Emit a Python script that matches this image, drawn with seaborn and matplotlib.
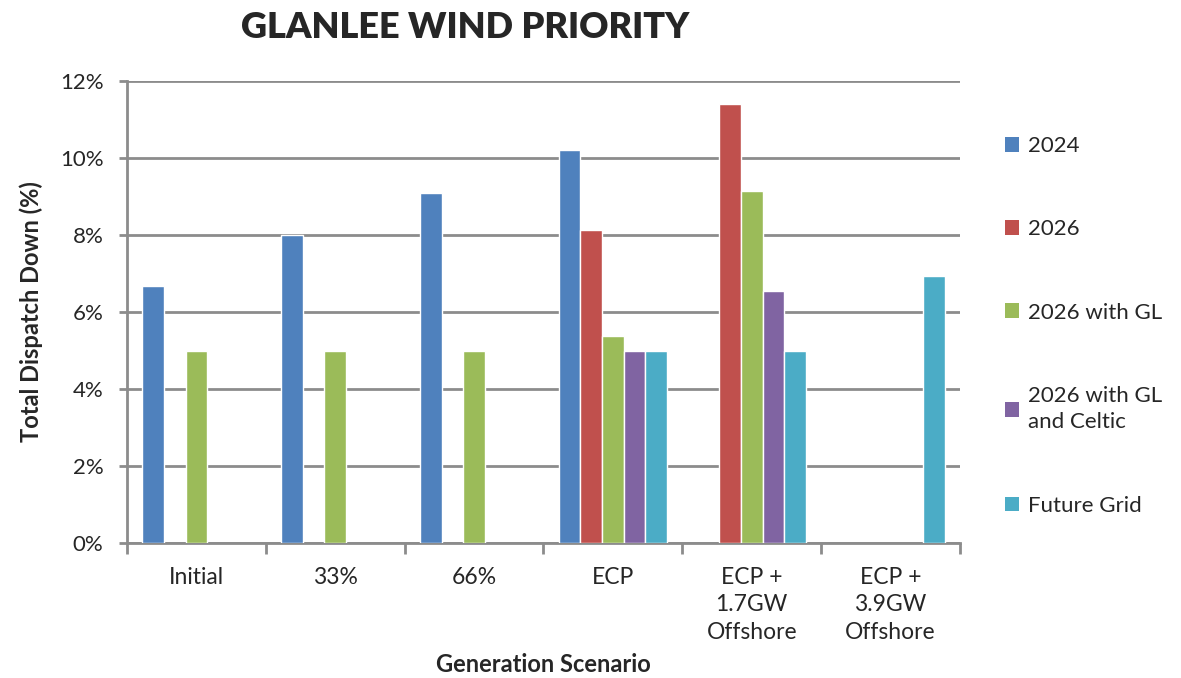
import numpy as np
import pandas as pd
import matplotlib
matplotlib.use("Agg")
import matplotlib.pyplot as plt
import seaborn as sns
from matplotlib.ticker import PercentFormatter, FixedLocator
from matplotlib.patches import Patch

# values (percent), None = no bar
scenarios = ["Initial", "33%", "66%", "ECP", "ECP +\n1.7GW\nOffshore", "ECP +\n3.9GW\nOffshore"]
series_names = ["2024", "2026", "2026 with GL", "2026 with GL\nand Celtic", "Future Grid"]
s_2024 = [6.67, 8.0, 9.09, 10.2, None, None]
s_2026 = [None, None, None, 8.12, 11.39, None]
s_2026_gl = [5.0, 5.0, 5.0, 5.38, 9.13, None]
s_2026_gl_celtic = [None, None, None, 5.0, 6.55, None]
s_future_grid = [None, None, None, 5.0, 5.0, 6.93]
colors = ["#4F81BD", "#C0504D", "#9BBB59", "#8064A2", "#4BACC6"]

all_series = [s_2024, s_2026, s_2026_gl, s_2026_gl_celtic, s_future_grid]
rows = []
for name, vals in zip(series_names, all_series):
    for scen, v in zip(scenarios, vals):
        rows.append({"Scenario": scen, "Series": name, "Value": np.nan if v is None else v})
df = pd.DataFrame(rows)

sns.set_style("white")
plt.rcParams["font.family"] = ["Lato", "DejaVu Sans"]

fig = plt.figure(figsize=(11.81, 6.78), dpi=100)
ax = fig.add_axes([127 / 1181, 1 - 543 / 678, (960 - 127) / 1181, (543 - 81) / 678])

sns.barplot(data=df, x="Scenario", y="Value", hue="Series", order=scenarios,
            hue_order=series_names, palette=colors, width=0.78, dodge=True,
            errorbar=None, saturation=1, ax=ax, legend=False, zorder=3)

ax.set_ylim(0, 12)
ax.set_xlim(-0.5, len(scenarios) - 0.5)
ax.yaxis.set_major_locator(FixedLocator(np.arange(0, 13, 2)))
ax.yaxis.set_major_formatter(PercentFormatter(decimals=0))
ax.grid(axis="y", color="#8c8c8c", linewidth=2, zorder=0)
ax.set_axisbelow(True)

for side in ["top", "right"]:
    ax.spines[side].set_visible(False)
for side in ["left", "bottom"]:
    ax.spines[side].set_color("#8c8c8c")
    ax.spines[side].set_linewidth(2)

ax.tick_params(axis="y", which="major", direction="out", length=6, width=2,
               color="#8c8c8c", left=True, labelsize=16, pad=11, labelcolor="#262626")
ax.set_xticks(range(len(scenarios)))
ax.set_xticklabels(scenarios, linespacing=1.4)
ax.tick_params(axis="x", which="major", length=0, labelsize=16.5, pad=17, labelcolor="#262626")
ax.set_xticks(np.arange(-0.5, len(scenarios), 1), minor=True)
ax.tick_params(axis="x", which="minor", direction="out", length=8, width=2,
               color="#8c8c8c", bottom=True)

ax.set_xlabel("Generation Scenario", fontsize=17, fontweight="bold", labelpad=7)
ax.set_ylabel("Total Dispatch Down (%)", fontsize=17, fontweight="bold", labelpad=12)

fig.text(465 / 1181, 1 - 27 / 678, "GLANLEE WIND PRIORITY", fontsize=26,
         fontweight="heavy", ha="center", va="center")

handles = [Patch(facecolor=c, edgecolor="none") for c in colors]
leg = fig.legend(handles, series_names, loc="upper left", bbox_to_anchor=(985 / 1181, 1 - 116 / 678),
                 frameon=False, fontsize=16, handlelength=0.65, handleheight=0.65,
                 handletextpad=0.4, labelspacing=2.85)
for t in leg.get_texts():
    t.set_linespacing(1.4)

fig.savefig("out.png", dpi=100)
